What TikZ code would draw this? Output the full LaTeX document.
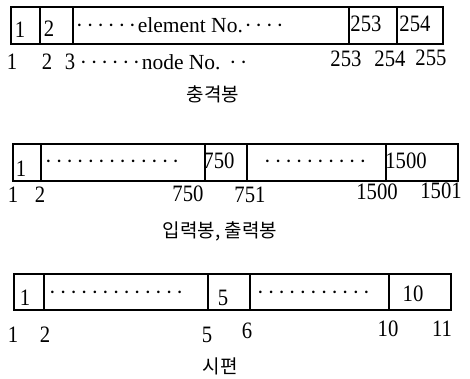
\documentclass[tikz,border=0pt]{standalone}
\usepackage{fontspec}
\setmainfont{Liberation Serif}
\newfontfamily\nf[FakeStretch=0.88]{Liberation Serif}
\newfontfamily\kr{Noto Sans CJK KR}
\newcommand\dd{\makebox[10.6pt]{·}}
\newcommand\ddd[1]{\foreach \i in {1,...,#1}{\dd}}
\begin{document}
\begin{tikzpicture}[x=1pt,y=-1pt,
  cell/.style={draw, line width=1.6pt, inner sep=0pt, anchor=north west, minimum height=37pt},
  num/.style={inner sep=0pt, anchor=base, font=\nf\fontsize{23.5}{26}\selectfont},
  txt/.style={inner sep=0pt, anchor=base west, font=\fontsize{21.5}{24}\selectfont},
  ttl/.style={inner sep=0pt, font=\kr\fontsize{19}{22}\selectfont}]
\useasboundingbox (0,0) rectangle (470,379);
% ---------- row 1 ----------
\node[cell, minimum width=29pt]  (c11) at (10,6) {};
\node[cell, minimum width=33pt]  (c12) at (39,6) {};
\node[cell, minimum width=276pt] (c13) at (72,6) {};
\node[cell, minimum width=48pt]  (c14) at (348,6) {};
\node[cell, minimum width=46pt]  (c15) at (396,6) {};
\node[num] (e11) at (20,38) {1};
\node[num] (e12) at (49,37) {2};
\node[txt] (e13) at (74,33) {\ddd{6}element No.\ddd{4}};
\node[num] (e14) at (366,32) {253};
\node[num] (e15) at (415,32) {254};
\node[num] (n11) at (12,70) {1};
\node[num] (n12) at (47,70) {2};
\node[num] (n13) at (70,70) {3};
\node[txt] (n14) at (78,70) {\ddd{6}node No. \ddd{2}};
\node[num] (n15) at (346,67) {253};
\node[num] (n16) at (390,67) {254};
\node[num] (n17) at (431,66) {255};
\node[ttl] (t1) at (213,94) {충격봉};
% ---------- row 2 ----------
\node[cell, minimum width=28pt]  (c21) at (12,143) {};
\node[cell, minimum width=164pt] (c22) at (40,143) {};
\node[cell, minimum width=42pt]  (c23) at (204,143) {};
\node[cell, minimum width=139pt] (c24) at (246,143) {};
\node[cell, minimum width=72pt]  (c25) at (385,143) {};
\node[num] (e21) at (21,176) {1};
\node[txt] (e22) at (43,168) {\ddd{13}};
\node[num] (e23) at (219,169) {750};
\node[txt] (e24) at (262,168) {\ddd{10}};
\node[num] (e25) at (406,169) {1500};
\node[num] (n21) at (13,202) {1};
\node[num] (n22) at (40,202) {2};
\node[num] (n23) at (188,201) {750};
\node[num] (n24) at (250,202) {751};
\node[num] (n25) at (377,199) {1500};
\node[num] (n26) at (441,198) {1501};
\node[ttl] (t2) at (220,231) {입력봉, 출력봉};
% ---------- row 3 ----------
\node[cell, minimum width=30pt,  minimum height=36pt] (c31) at (13,273) {};
\node[cell, minimum width=164pt, minimum height=36pt] (c32) at (43,273) {};
\node[cell, minimum width=42pt,  minimum height=36pt] (c33) at (207,273) {};
\node[cell, minimum width=139pt, minimum height=36pt] (c34) at (249,273) {};
\node[cell, minimum width=62pt,  minimum height=36pt] (c35) at (388,273) {};
\node[num] (e31) at (25,305) {1};
\node[txt] (e32) at (47,299) {\ddd{13}};
\node[num] (e33) at (223,305) {5};
\node[txt] (e34) at (255,299) {\ddd{11}};
\node[num] (e35) at (413,301) {10};
\node[num] (n31) at (13,342) {1};
\node[num] (n32) at (45,342) {2};
\node[num] (n33) at (207,342) {5};
\node[num] (n34) at (247,338) {6};
\node[num] (n35) at (388,336) {10};
\node[num] (n36) at (442,336) {11};
\node[ttl] (t3) at (220,366) {시편};
\end{tikzpicture}
\end{document}
